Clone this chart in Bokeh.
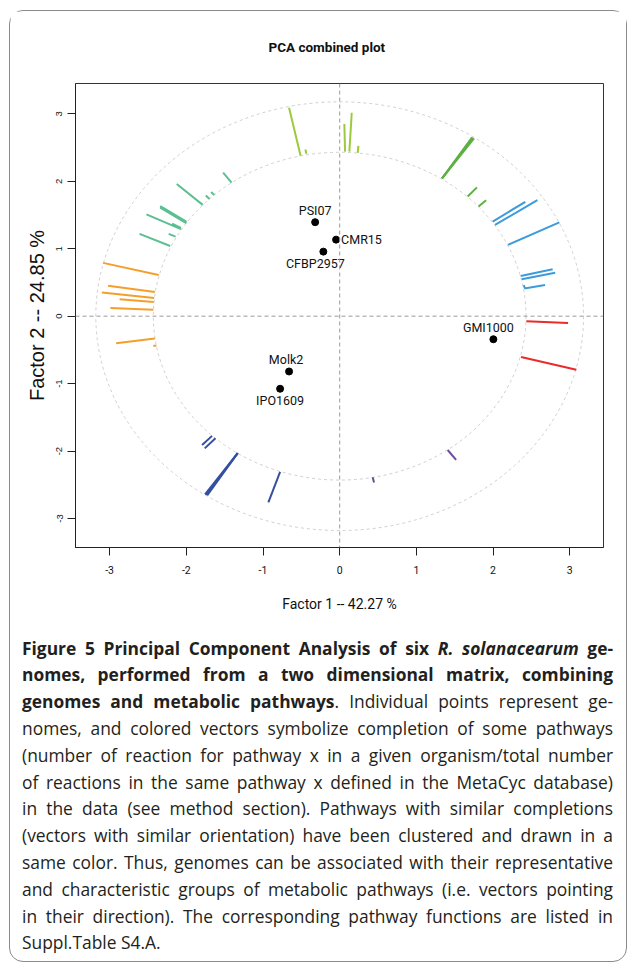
from bokeh.plotting import figure
from bokeh.models import ColumnDataSource, Span, FixedTicker, Div, Range1d, Title
from bokeh.layouts import column
from bokeh.embed import file_html
from bokeh.resources import INLINE
from bokeh.core.properties import value

# ---------------- data ----------------
genomes = ["GMI1000", "CMR15", "PSI07", "CFBP2957", "Molk2", "IPO1609"]
factor1 = [2.004, -0.047, -0.32, -0.213, -0.66, -0.777]
factor2 = [-0.342, 1.135, 1.394, 0.957, -0.82, -1.076]

tick_values = [-3, -2, -1, 0, 1, 2, 3]
tick_labels = ["-3", "-2", "-1", "0", "1", "2", "3"]

inner_radius = 2.43
outer_radius = 3.18

# pathway vectors: start (on inner circle) and end points
vec_group = (["lime"] * 5 + ["teal"] * 11 + ["orange"] * 7 + ["navy"] * 6 +
             ["purple"] * 2 + ["red"] * 2 + ["blue"] * 7 + ["green"] * 5)
vec_x0 = [-0.51, -0.434, 0.07, 0.126, 0.235,
          -1.41, -1.697, -1.636, -1.786, -2.0, -2.0, -2.0, -2.07, -2.07, -2.14, -2.21,
          -2.36, -2.41, -2.42, -2.425, -2.43, -2.41, -2.39,
          -1.664, -1.62, -1.33, -1.33, -1.33, -0.777,
          1.408, 0.43,
          2.434, 2.365,
          1.995, 2.026, 2.195, 2.36, 2.373, 2.408, 2.417,
          1.335, 1.335, 1.335, 1.669, 1.81]
vec_y0 = [2.38, 2.41, 2.44, 2.44, 2.42,
          1.98, 1.739, 1.797, 1.65, 1.378, 1.39, 1.402, 1.29, 1.31, 1.18, 1.04,
          0.61, 0.36, 0.27, 0.21, 0.094, -0.33, -0.44,
          -1.775, -1.81, -2.03, -2.03, -2.03, -2.31,
          -1.984, -2.39,
          -0.074, -0.606,
          1.403, 1.354, 1.057, 0.595, 0.546, 0.412, 0.412,
          2.043, 2.043, 2.043, 1.775, 1.627]
vec_x1 = [-0.66, -0.447, 0.061, 0.157, 0.244,
          -1.52, -1.746, -1.676, -2.125, -2.34, -2.34, -2.34, -2.52, -2.185, -2.23, -2.61,
          -3.085, -3.02, -3.10, -2.87, -2.99, -2.915, -2.43,
          -1.794, -1.76, -1.728, -1.742, -1.756, -0.93,
          1.518, 0.448,
          2.978, 3.086,
          2.42, 2.578, 2.864, 2.777, 2.81, 2.678, 2.399,
          1.726, 1.739, 1.752, 1.79, 1.91]
vec_y1 = [3.09, 2.47, 2.85, 3.016, 2.525,
          2.13, 1.789, 1.842, 1.96, 1.608, 1.62, 1.632, 1.51, 1.37, 1.22, 1.22,
          0.79, 0.45, 0.35, 0.25, 0.12, -0.40, -0.437,
          -1.91, -1.96, -2.658, -2.65, -2.642, -2.76,
          -2.13, -2.466,
          -0.10, -0.793,
          1.696, 1.72, 1.39, 0.695, 0.645, 0.461, 0.461,
          2.652, 2.644, 2.636, 1.91, 1.72]

# ---------------- styles ----------------
group_colors = {"lime": "#9dca3c", "teal": "#5cbf92", "orange": "#f59f2a", "navy": "#34509f",
                "purple": "#6c4d9b", "red": "#eb2a2a", "blue": "#3b9bdb", "green": "#5db043"}
label_side = {"GMI1000": "above", "CMR15": "right", "PSI07": "above",
              "CFBP2957": "below", "Molk2": "above", "IPO1609": "below"}
label_nudge = {"GMI1000": -5, "CMR15": 0, "PSI07": 0, "CFBP2957": -8, "Molk2": -3, "IPO1609": 0}
side_style = {"above": ("center", 0, -12), "below": ("center", 0, 12), "right": ("left", 5, 0)}

PLOTFONT = "Roboto"
SANS = "Liberation Sans"

p = figure(width=616, height=622,
           x_range=Range1d(-3.445, 3.44), y_range=Range1d(-3.43, 3.45),
           output_backend="svg", toolbar_location=None,
           min_border_left=65, min_border_right=23, min_border_top=72, min_border_bottom=86)
p.grid.visible = False
p.outline_line_color = "#333333"
p.outline_line_width = 1
p.background_fill_color = "white"
p.border_fill_color = "white"

# spacer between title and frame, then the title itself
p.add_layout(Title(text=" ", text_font_size="11px"), "above")
p.add_layout(Title(text="PCA combined plot", text_font=PLOTFONT, text_font_size="13.5px",
                   text_font_style="bold", text_color="#111111", align="left", offset=193),
             "above")

for ax in (p.xaxis[0], p.yaxis[0]):
    ax.ticker = FixedTicker(ticks=tick_values)
    ax.major_label_overrides = dict(zip(tick_values, tick_labels))
    ax.minor_tick_line_color = None
    ax.major_tick_in = 0
    ax.major_tick_out = 8
    ax.axis_line_color = "#222222"
    ax.major_tick_line_color = "#222222"
    ax.major_label_text_color = "#111111"
    ax.axis_label_text_color = "#111111"
    ax.axis_label_text_font_style = "normal"

p.xaxis.axis_label = "Factor 1 -- 42.27 %"
p.xaxis.axis_label_text_font = PLOTFONT
p.xaxis.axis_label_text_font_size = "14px"
p.xaxis.major_label_text_font = PLOTFONT
p.xaxis.major_label_text_font_size = "10.5px"
p.xaxis.major_label_standoff = 10
p.xaxis.axis_label_standoff = 19

p.yaxis.axis_label = "Factor 2 -- 24.85 %"
p.yaxis.axis_label_text_font = SANS
p.yaxis.axis_label_text_font_size = "20px"
p.yaxis.major_label_text_font = SANS
p.yaxis.major_label_text_font_size = "9.5px"
p.yaxis.major_label_orientation = "vertical"
p.yaxis.major_label_standoff = 5
p.yaxis.axis_label_standoff = 6

# origin dashed lines
p.add_layout(Span(location=0, dimension="height", line_color="#9a9a9a", line_dash="4 3", line_width=1))
p.add_layout(Span(location=0, dimension="width", line_color="#9a9a9a", line_dash="4 3", line_width=1))

# circles
p.ellipse(x=[0, 0], y=[0, 0], width=[2 * inner_radius, 2 * outer_radius],
          height=[2 * inner_radius, 2 * outer_radius],
          fill_alpha=0, line_color="#cfcfcf", line_dash="3 3", line_width=1)

# vectors
vsrc = ColumnDataSource(dict(x0=vec_x0, y0=vec_y0, x1=vec_x1, y1=vec_y1,
                             color=[group_colors[g] for g in vec_group]))
p.segment(x0="x0", y0="y0", x1="x1", y1="y1", color="color", line_width=2, source=vsrc)

# genome points
gsrc = ColumnDataSource(dict(
    x=factor1, y=factor2, name=genomes,
    align=[side_style[label_side[g]][0] for g in genomes],
    dx=[side_style[label_side[g]][1] + label_nudge[g] for g in genomes],
    dy=[side_style[label_side[g]][2] for g in genomes]))
p.scatter(x="x", y="y", size=7, color="black", source=gsrc)
p.text(x="x", y="y", text="name", text_align="align", text_baseline="middle",
       x_offset="dx", y_offset="dy", text_font=value(PLOTFONT), text_font_size="12.5px",
       text_color="#111111", source=gsrc)

caption_lines = [
    "<b>Figure 5 Principal Component Analysis of six <i>R. solanacearum</i> ge-</b>",
    "<b>nomes, performed from a two dimensional matrix, combining</b>",
    "<b>genomes and metabolic pathways</b>. Individual points represent ge-",
    "nomes, and colored vectors symbolize completion of some pathways",
    "(number of reaction for pathway x in a given organism/total number",
    "of reactions in the same pathway x defined in the MetaCyc database)",
    "in the data (see method section). Pathways with similar completions",
    "(vectors with similar orientation) have been clustered and drawn in a",
    "same color. Thus, genomes can be associated with their representative",
    "and characteristic groups of metabolic pathways (i.e. vectors pointing",
    "in their direction). The corresponding pathway functions are listed in",
    "Suppl.Table S4.A.",
]
html_lines = []
for i, line in enumerate(caption_lines):
    last = i == len(caption_lines) - 1
    just = "left" if last else "justify"
    html_lines.append(
        f'<div style="white-space:nowrap;text-align:{just};text-align-last:{just};">{line}</div>')
cap_html = ('<div style="box-sizing:border-box;width:616px;padding:1.6px 13px 0 12px;'
            'font-family:\'Open Sans\',sans-serif;font-size:17.4px;line-height:26.8px;'
            'color:#231f20;">' + "".join(html_lines) + '</div>')
cap = Div(text=cap_html, width=616, height=328, margin=(0, 0, 0, 0))

layout = column(p, cap, margin=(10, 0, 0, 9),
                styles={"border": "1px solid #8a8a8a", "border-radius": "14px",
                        "background-color": "white"})

open("out.html", "w").write(file_html(layout, INLINE))
